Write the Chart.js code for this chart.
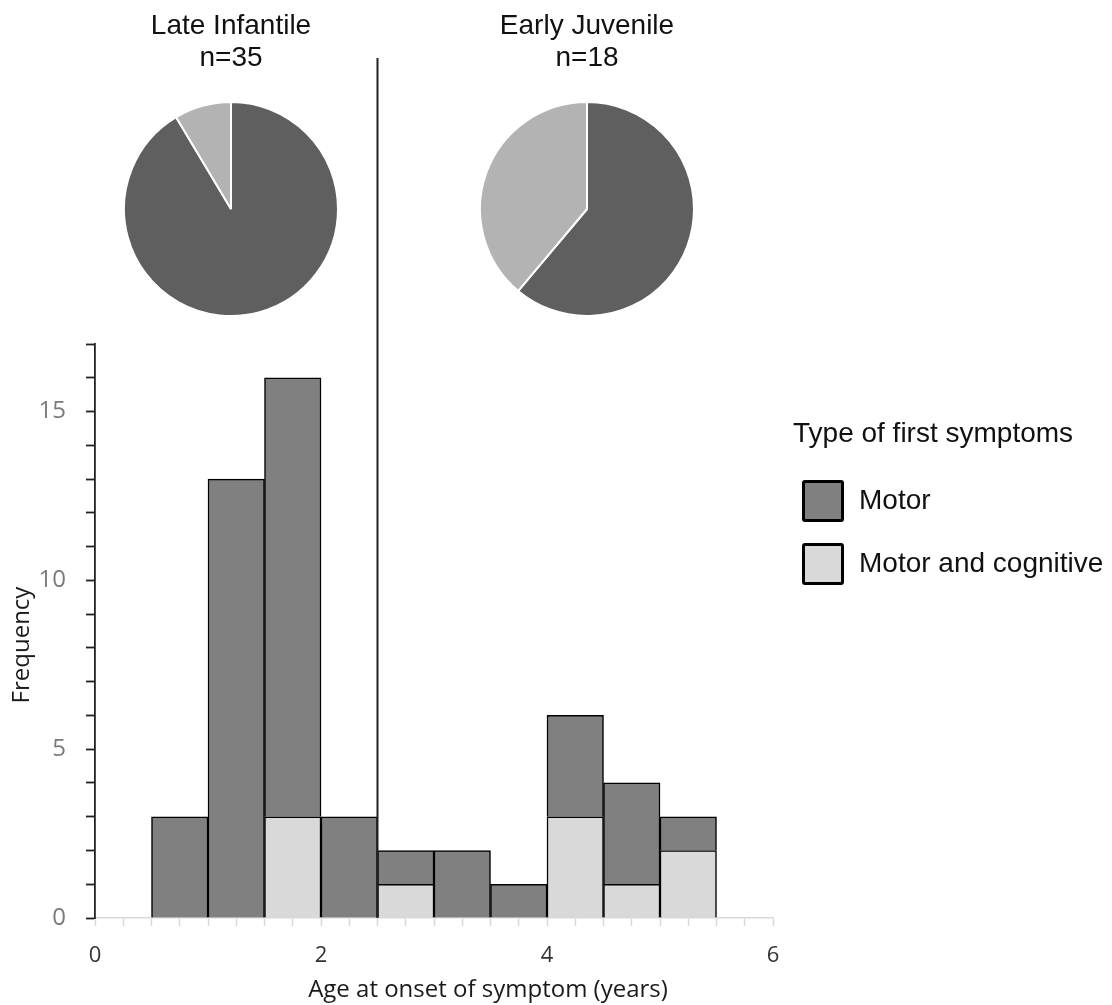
<!DOCTYPE html>
<html>
<head>
<meta charset="utf-8">
<script src="https://cdn.jsdelivr.net/npm/chart.js@4.4.1/dist/chart.umd.min.js"></script>
<style>
  body { margin: 0; background: #fff; }
  #wrap { position: relative; width: 1112px; height: 1005px; overflow: hidden; }
  canvas { position: absolute; }
  .txt { position: absolute; white-space: nowrap; color: #111; }
  .leg { font-family: "Liberation Sans", Arial, sans-serif; font-size: 28px; line-height: 28px; }
  .box { position: absolute; width: 36px; height: 36px; border: 3px solid #000; border-radius: 3px; }
  .axis { font-family: "Open Sans", sans-serif; font-size: 24px; line-height: 24px; color: #1a1a1a; }
</style>
</head>
<body>
<div id="wrap">
  <canvas id="hist" width="1112" height="1005" style="left:0;top:0"></canvas>
  <canvas id="pie0" width="216" height="317" style="left:123px;top:0"></canvas>
  <canvas id="pie1" width="216" height="317" style="left:479px;top:0"></canvas>

  <div class="txt leg" style="left:793px;top:419px">Type of first symptoms</div>
  <div class="box" style="left:802px;top:480px;background:#808080"></div>
  <div class="txt leg" style="left:859px;top:486px">Motor</div>
  <div class="box" style="left:802px;top:543px;background:#d9d9d9"></div>
  <div class="txt leg" style="left:859px;top:549px">Motor and cognitive</div>

  <div class="txt axis" style="left:188px;top:976px;width:600px;text-align:center">Age at onset of symptom (years)</div>
  <div class="txt axis" style="left:-80px;top:633px;width:200px;text-align:center;transform:rotate(-90deg)">Frequency</div>
</div>
<script>
// histogram bins (width 0.5 year), counts per type of first symptoms
var binCenters = [0.75, 1.25, 1.75, 2.25, 2.75, 3.25, 3.75, 4.25, 4.75, 5.25];
var motorCounts = [3, 13, 13, 3, 1, 2, 1, 3, 3, 1];
var motorCognitiveCounts = [0, 0, 3, 0, 1, 0, 0, 3, 1, 2];

var xTickValues = [0, 0.25, 0.5, 0.75, 1, 1.25, 1.5, 1.75, 2, 2.25, 2.5, 2.75, 3,
  3.25, 3.5, 3.75, 4, 4.25, 4.5, 4.75, 5, 5.25, 5.5, 5.75, 6];
var xTickLabels = [0, 2, 4, 6];
var yTickLabels = [0, 5, 10, 15];
var groupSplit = 2.5;

// pies: one per onset group
var pieGroups = ["Late Infantile", "Early Juvenile"];
var pieSizes = [35, 18];
var pieMotor = [32, 11];
var pieCognitive = [3, 7];

var splitLine = {
  id: "splitLine",
  afterDraw: function (chart) {
    var ctx = chart.ctx;
    var x = chart.scales.x.getPixelForValue(groupSplit);
    ctx.save();
    ctx.strokeStyle = "#222";
    ctx.lineWidth = 2;
    ctx.beginPath();
    ctx.moveTo(x, 58);
    ctx.lineTo(x, chart.chartArea.bottom);
    ctx.stroke();
    ctx.restore();
  }
};

function points(values) {
  return binCenters.map(function (x, i) {
    return { x: x, y: values[i] };
  });
}

new Chart(document.getElementById("hist"), {
  type: "bar",
  data: {
    datasets: [
      {
        label: "Motor and cognitive",
        data: points(motorCognitiveCounts),
        backgroundColor: "#d9d9d9",
        borderColor: "#000",
        borderWidth: 1.5,
        barThickness: "flex",
        barPercentage: 1,
        categoryPercentage: 1
      },
      {
        label: "Motor",
        data: points(motorCounts),
        backgroundColor: "#808080",
        borderColor: "#000",
        borderWidth: 1.5,
        barThickness: "flex",
        barPercentage: 1,
        categoryPercentage: 1
      }
    ]
  },
  options: {
    responsive: false,
    animation: false,
    layout: { padding: { left: 0, top: 344, right: 339, bottom: 2 } },
    plugins: {
      legend: { display: false },
      tooltip: { enabled: false }
    },
    scales: {
      x: {
        type: "linear",
        min: 0,
        max: 6,
        offset: false,
        stacked: true,
        afterBuildTicks: function (s) {
          s.ticks = xTickValues.map(function (v) { return { value: v }; });
        },
        afterFit: function (s) { s.height = 85; },
        ticks: {
          autoSkip: false,
          maxRotation: 0,
          padding: 17,
          color: "#333",
          font: { family: "Open Sans", size: 22 },
          callback: function (v) { return xTickLabels.indexOf(v) >= 0 ? v : ""; }
        },
        grid: { drawOnChartArea: false, offset: false, tickLength: 8, color: "#d9d9d9", tickWidth: 1.5 },
        border: { color: "#d9d9d9", width: 1.5 }
      },
      y: {
        min: 0,
        max: 17,
        stacked: true,
        afterFit: function (s) { s.width = 95; },
        ticks: {
          stepSize: 1,
          autoSkip: false,
          padding: 20,
          color: "#7a7a7a",
          font: { family: "Open Sans", size: 24 },
          callback: function (v) { return yTickLabels.indexOf(v) >= 0 ? v : ""; }
        },
        grid: { drawOnChartArea: false, tickLength: 9, color: "#222", tickWidth: 1.8 },
        border: { color: "#222", width: 1.8 }
      }
    }
  },
  plugins: [splitLine]
});

pieGroups.forEach(function (name, i) {
  new Chart(document.getElementById("pie" + i), {
    type: "pie",
    data: {
      labels: ["Motor", "Motor and cognitive"],
      datasets: [{
        data: [pieMotor[i], pieCognitive[i]],
        backgroundColor: ["#5f5f5f", "#b3b3b3"],
        borderColor: "#fff",
        borderWidth: 2
      }]
    },
    options: {
      responsive: false,
      animation: false,
      layout: { padding: 0 },
      plugins: {
        legend: { display: false },
        tooltip: { enabled: false },
        title: {
          display: true,
          text: [name, "n=" + pieSizes[i]],
          color: "#111",
          font: { family: "Liberation Sans", size: 28, weight: "normal", lineHeight: 1.143 },
          padding: { top: 10, bottom: 27 }
        }
      }
    }
  });
});
</script>
</body>
</html>
